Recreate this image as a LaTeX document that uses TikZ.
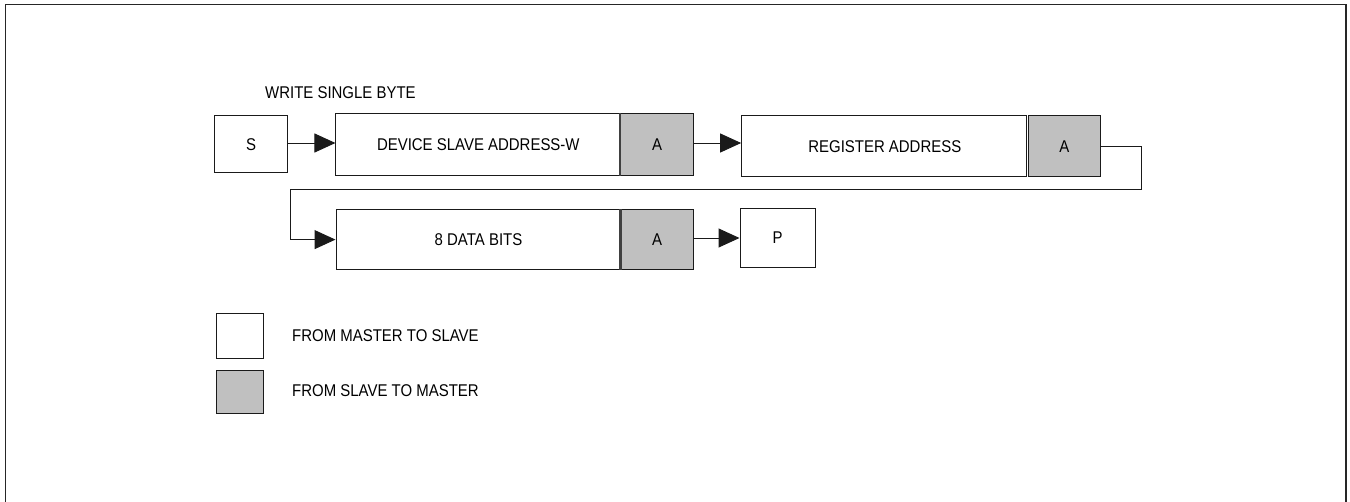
\documentclass[tikz,border=0pt]{standalone}
\usepackage{fontspec}
\setmainfont[FakeStretch=0.88]{Liberation Sans}
\usetikzlibrary{arrows.meta}
\definecolor{boxgray}{HTML}{C0C0C0}
\definecolor{lin}{HTML}{1A1A1A}
\tikzset{
  box/.style={draw=lin, line width=1pt, fill=white, inner sep=0pt, align=center, font=\fontsize{17}{20}\selectfont},
  abox/.style={box, fill=boxgray},
  lbl/.style={inner sep=0pt, anchor=west, font=\fontsize{17}{20}\selectfont},
  conn/.style={draw=lin, line width=1pt},
  arr/.style={conn, -{Triangle[length=21pt,width=19pt]}},
  sep/.style={draw=black!75, line width=2.5pt},
  frame/.style={draw=black!85, line width=1.5pt}
}
\begin{document}
\begin{tikzpicture}[x=1pt,y=-1pt]
\useasboundingbox (0,0) rectangle (1350,501);
\draw[frame] (5.5,510) -- (5.5,4.5) -- (1346,4.5) -- (1346,510);

\node[lbl] (title) at (265,93) {WRITE SINGLE BYTE};

\node[box, minimum width=73.4pt, minimum height=57pt] (s) at (251,144.2) {S};
\node[box, minimum width=284.7pt, minimum height=61.7pt] (dev) at (478.3,144.2) {DEVICE SLAVE ADDRESS-W};
\node[abox, minimum width=72.6pt, minimum height=61.7pt] (a1) at (657,144.2) {A};
\draw[sep] (a1.north west) -- (a1.south west);

\node[box, minimum width=286.3pt, minimum height=61pt] (reg) at (884.8,146.2) {REGISTER ADDRESS};
\node[abox, minimum width=72.7pt, minimum height=61pt] (a2) at (1064.3,146.2) {A};
\draw[conn, double=white, double distance=1pt, line width=0.8pt] (a2.north west) -- (a2.south west);

\node[box, minimum width=285pt, minimum height=59.3pt] (data) at (478.5,239.6) {8 DATA BITS};
\node[abox, minimum width=72pt, minimum height=59.3pt] (a3) at (657,239.6) {A};
\draw[sep] (a3.north west) -- (a3.south west);

\node[box, minimum width=75pt, minimum height=59pt] (p) at (777.5,237.5) {P};

\coordinate (t1) at (1141,189);
\coordinate (t2) at (290,189);

\draw[arr] (s.east |- 0,143) -- (dev.west |- 0,143);
\draw[arr] (a1.east |- 0,143) -- (reg.west |- 0,143);
\draw[arr] (a2.east) -| (t1) -- (t2) |- (data.west);
\draw[arr] (a3.east |- 0,238) -- (p.west |- 0,238);

\node[box, minimum width=47pt, minimum height=45pt] (lw) at (239.5,335.5) {};
\node[abox, minimum width=47pt, minimum height=43pt] (lg) at (239.5,391.5) {};
\node[lbl] (lwt) at (292,335.5) {FROM MASTER TO SLAVE};
\node[lbl] (lgt) at (292,390.5) {FROM SLAVE TO MASTER};
\end{tikzpicture}
\end{document}
